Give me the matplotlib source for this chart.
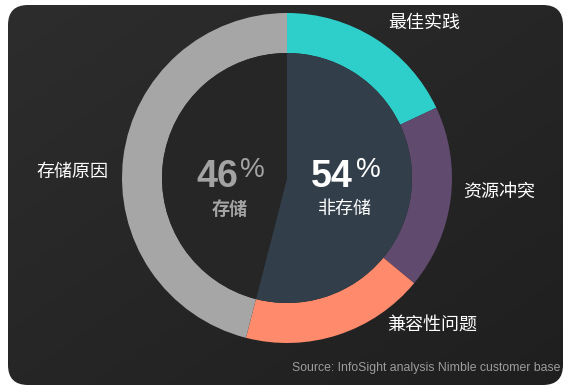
import numpy as np
import matplotlib
matplotlib.use("Agg")
import matplotlib.pyplot as plt
from matplotlib.patches import FancyBboxPatch

plt.rcParams['font.family'] = ['Noto Sans CJK SC', 'DejaVu Sans']

# outer ring: reasons (percent)
reasons = ['最佳实践', '资源冲突', '兼容性问题', '存储原因']
reason_values = [18, 18, 18, 46]
reason_colors = ['#2ecfca', '#604a6e', '#ff8a6c', '#a6a6a6']

# inner pie: storage vs non-storage
split_labels = ['非存储', '存储']
split_values = [54, 46]
split_colors = ['#323f4b', '#262626']

source = 'Source: InfoSight analysis Nimble customer base'

W, H = 570, 392
fig = plt.figure(figsize=(W / 100, H / 100), dpi=100)
fig.patch.set_facecolor('white')
ax = fig.add_axes([0, 0, 1, 1])

# rounded dark panel with a soft diagonal gradient
x0, x1, y0, y1 = 8, 563, H - 385, H - 5
panel = FancyBboxPatch((x0 + 20, y0 + 20), x1 - x0 - 40, y1 - y0 - 40,
                       boxstyle='round,pad=20', facecolor='none',
                       edgecolor='none')
ax.add_patch(panel)
gx, gy = np.meshgrid(np.linspace(0, 1, 200), np.linspace(0, 1, 200))
grad = (gx + gy) / 2
top = np.array([0x2d, 0x2d, 0x2d]) / 255
bot = np.array([0x1f, 0x1f, 0x1f]) / 255
img = top + (bot - top) * grad[..., None]
im = ax.imshow(img, extent=[x0, x1, y0, y1], origin='upper', zorder=0)
im.set_clip_path(panel)

cx, cy = 287, H - 178

# outer ring
ax.pie(reason_values, colors=reason_colors, startangle=90, counterclock=False,
       center=(cx, cy), radius=165, frame=True,
       wedgeprops=dict(width=40, linewidth=0))

# inner split
ax.pie(split_values, colors=split_colors, startangle=90, counterclock=False,
       center=(cx, cy), radius=125, frame=True,
       wedgeprops=dict(linewidth=0))
ax.set_xlim(0, W)
ax.set_ylim(0, H)
ax.set_aspect('equal')
ax.axis('off')

# outer labels
lab_pos = [(388, 23, 'left'), (463, 192, 'left'), (387, 325, 'left'), (108, 172, 'right')]
for name, (lx, ly, ha) in zip(reasons, lab_pos):
    ax.text(lx, H - ly, name, color='white', fontsize=13, ha=ha, va='center')

# center numbers
num_font = ['Liberation Sans', 'DejaVu Sans']
ax.text(238, H - 187, f'{split_values[1]}', color='#a3a3a3', fontsize=27,
        fontweight='bold', family=num_font, ha='right', va='baseline')
ax.text(240, H - 177, '%', color='#a3a3a3', fontsize=20, family=num_font,
        ha='left', va='baseline')
ax.text(230, H - 209, split_labels[1], color='#a3a3a3', fontsize=13,
        fontweight='bold', ha='center', va='center')

ax.text(353, H - 187, f'{split_values[0]}', color='white', fontsize=27,
        fontweight='bold', family=num_font, ha='right', va='baseline')
ax.text(356, H - 177, '%', color='white', fontsize=20, family=num_font,
        ha='left', va='baseline')
ax.text(345, H - 209, split_labels[0], color='white', fontsize=13,
        ha='center', va='center')

ax.text(560, H - 368, source, color='#9d9d9d', fontsize=8.8,
        family=num_font, ha='right', va='center')

fig.savefig('out.png', dpi=100, facecolor='white')
